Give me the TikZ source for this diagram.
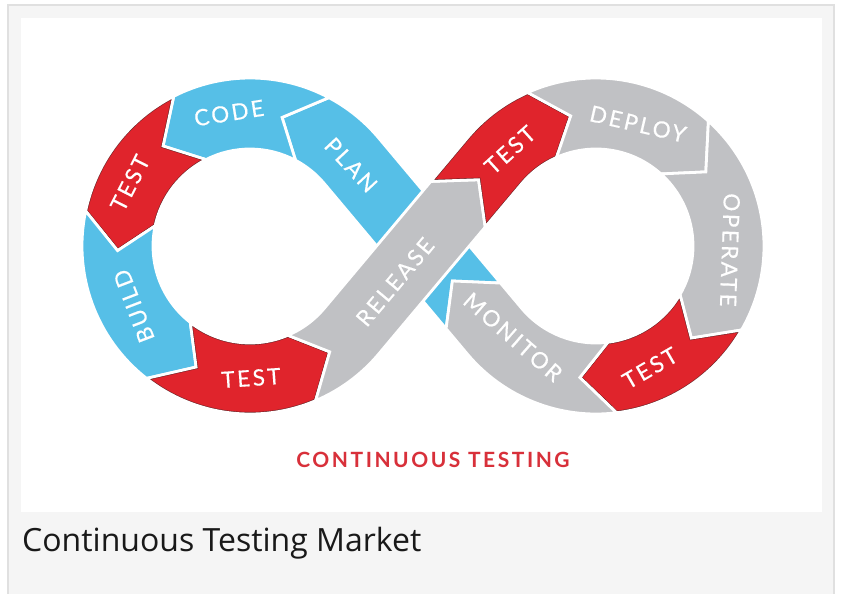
\documentclass[tikz,border=0pt]{standalone}
\usepackage{fontspec}
\setmainfont{Open Sans}
\newfontfamily\labfont[LetterSpace=11,FakeBold=0.4]{Lato}
\newfontfamily\titfont[LetterSpace=12]{Lato}
\usetikzlibrary{calc}
\definecolor{cblue}{HTML}{56BFE7}
\definecolor{cgray}{HTML}{C0C1C4}
\definecolor{cred}{HTML}{E0242C}
\definecolor{cdark}{HTML}{6E2226}
\definecolor{ctitle}{HTML}{D8303A}
\definecolor{cframe}{HTML}{F5F5F5}
\definecolor{cborder}{HTML}{E0E0E0}
\newcommand\plainseg[2]{%
  \fill[#1, use path=#2];
  \draw[white, line width=2.8pt, use path=#2];}
\newcommand\redseg[1]{%
  \fill[cred, use path=#1];
  \begin{scope}\clip[use path=#1];\draw[cdark, line width=4pt, use path=#1];\end{scope}
  \draw[white, line width=2.8pt, use path=#1];}
\tikzset{
  lab/.style={text=white, font=\labfont\fontsize{22.5}{22.5}\selectfont, inner sep=0pt},
}
\begin{document}
\begin{tikzpicture}[x=1pt,y=-1pt]
\useasboundingbox (0,0) rectangle (841,594);
\fill[white] (0,0) rectangle (841,594);
\fill[cframe, draw=cborder, line width=2pt] (8,5) rectangle (834,604);
\fill[white] (21,18) rectangle (822,512);

\coordinate (L) at (250,246);
\coordinate (R) at (596,246);

% PLAN (under RELEASE)
\path[save path=\pPlan]
  ($(R)+(140:168)+(230:33)$) -- ($(R)+(140:168)+(230:222.5)$)
  arc[start angle=320,end angle=298,radius=97]
  -- ($(L)+(284:132.5)$) -- ($(L)+(298:168)$)
  arc[start angle=298,end angle=320,radius=168]
  -- ($(R)+(140:97)+(230:33)$) -- ($(R)+(140:132.5)+(230:65.5)$) -- cycle;
% CODE
\path[save path=\pCode]
  ($(L)+(298:168)$) arc[start angle=298,end angle=243,radius=168]
  -- ($(L)+(229:132.5)$) -- ($(L)+(243:97)$)
  arc[start angle=243,end angle=298,radius=97]
  -- ($(L)+(284:132.5)$) -- cycle;
% TEST upper left
\path[save path=\pTestA]
  ($(L)+(243:168)$) arc[start angle=243,end angle=192,radius=168]
  -- ($(L)+(178:132.5)$) -- ($(L)+(192:97)$)
  arc[start angle=192,end angle=243,radius=97]
  -- ($(L)+(229:132.5)$) -- cycle;
% BUILD
\path[save path=\pBuild]
  ($(L)+(192:168)$) arc[start angle=192,end angle=128,radius=168]
  -- ($(L)+(114:132.5)$) -- ($(L)+(128:97)$)
  arc[start angle=128,end angle=192,radius=97]
  -- ($(L)+(178:132.5)$) -- cycle;
% TEST bottom left
\path[save path=\pTestB]
  ($(L)+(128:168)$) arc[start angle=128,end angle=67,radius=168]
  -- ($(L)+(53:132.5)$) -- ($(L)+(67:97)$)
  arc[start angle=67,end angle=128,radius=97]
  -- ($(L)+(114:132.5)$) -- cycle;
% RELEASE
\path[save path=\pRel]
  ($(L)+(67:168)$) arc[start angle=67,end angle=40,radius=168]
  -- ($(L)+(40:168)+(-50:165.7)$) -- ($(L)+(40:132.5)+(-50:197.7)$)
  -- ($(L)+(40:97)+(-50:165.7)$) -- ($(L)+(40:97)$)
  arc[start angle=40,end angle=67,radius=97]
  -- ($(L)+(53:132.5)$) -- cycle;
% TEST upper right
\path[save path=\pTestC]
  ($(L)+(40:168)+(-50:165.7)$) -- ($(R)+(220:97)$)
  arc[start angle=220,end angle=246,radius=97]
  -- ($(R)+(259:132.5)$) -- ($(R)+(246:168)$)
  arc[start angle=246,end angle=220,radius=168]
  -- ($(L)+(40:97)+(-50:165.7)$) -- ($(L)+(40:132.5)+(-50:197.7)$) -- cycle;
% DEPLOY
\path[save path=\pDeploy]
  ($(R)+(246:168)$) arc[start angle=246,end angle=312,radius=168]
  -- ($(R)+(326:132.5)$) -- ($(R)+(312:97)$)
  arc[start angle=312,end angle=246,radius=97]
  -- ($(R)+(259:132.5)$) -- cycle;
% OPERATE
\path[save path=\pOperate]
  ($(R)+(312:168)$) arc[start angle=312,end angle=390,radius=168]
  -- ($(R)+(44:132.5)$) -- ($(R)+(30:97)$)
  arc[start angle=390,end angle=312,radius=97]
  -- ($(R)+(326:132.5)$) -- cycle;
% TEST lower right
\path[save path=\pTestD]
  ($(R)+(30:168)$) arc[start angle=30,end angle=83,radius=168]
  -- ($(R)+(97:132.5)$) -- ($(R)+(83:97)$)
  arc[start angle=83,end angle=30,radius=97]
  -- ($(R)+(44:132.5)$) -- cycle;
% MONITOR
\path[save path=\pMon]
  ($(R)+(83:168)$) arc[start angle=83,end angle=140,radius=168]
  -- ($(R)+(140:168)+(230:33)$) -- ($(R)+(140:132.5)+(230:65.5)$)
  -- ($(R)+(140:97)+(230:33)$) -- ($(R)+(140:97)$)
  arc[start angle=140,end angle=83,radius=97]
  -- ($(R)+(97:132.5)$) -- cycle;

\plainseg{cblue}{\pPlan}
\plainseg{cblue}{\pCode}
\redseg{\pTestA}
\plainseg{cblue}{\pBuild}
\redseg{\pTestB}
\plainseg{cgray}{\pRel}
\redseg{\pTestC}
\plainseg{cgray}{\pDeploy}
\plainseg{cgray}{\pOperate}
\redseg{\pTestD}
\plainseg{cgray}{\pMon}

\node[lab, rotate=9]   (code)    at (229,113) {CODE};
\node[lab, rotate=-47] (plan)    at (351,165) {PLAN};
\node[lab, rotate=63]  (testa)   at (130,183) {TEST};
\node[lab, rotate=111] (build)   at (134,306) {BUILD};
\node[lab, rotate=4]   (testb)   at (251,378) {TEST};
\node[lab, rotate=50]  (release) at (395,282) {RELEASE};
\node[lab, rotate=42]  (testc)   at (510,150) {TEST};
\node[lab, rotate=-13] (deploy)  at (638,124) {DEPLOY};
\node[lab, rotate=-92] (operate) at (730,250) {OPERATE};
\node[lab, rotate=30]  (testd)   at (650,368) {TEST};
\node[lab, rotate=-41] (monitor) at (513,337) {MONITOR};

\node[text=ctitle, font=\titfont\bfseries\fontsize{21}{21}\selectfont, inner sep=0pt] (title) at (433,460) {CONTINUOUS TESTING};
\node[anchor=base west, text=black!90, font=\fontsize{32}{32}\selectfont, inner sep=0pt] (caption) at (22,551) {Continuous Testing Market};
\end{tikzpicture}
\end{document}
